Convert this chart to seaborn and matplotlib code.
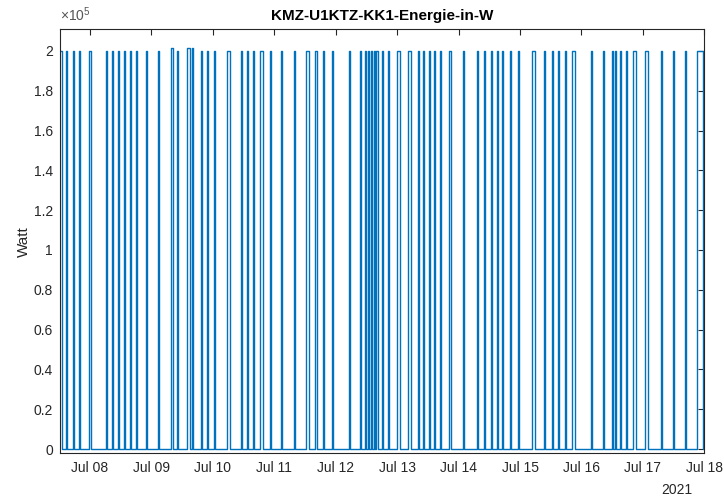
import numpy as np
import pandas as pd
import matplotlib
matplotlib.use("Agg")
import matplotlib.pyplot as plt
import matplotlib.dates as mdates
import seaborn as sns

# Switch-on events of the heater KK1: start time, duration in minutes, power level
switch_on = [
    "2021-07-07 12:00", "2021-07-07 14:42", "2021-07-07 17:17", "2021-07-07 19:53",
    "2021-07-07 23:48", "2021-07-08 06:19", "2021-07-08 08:31", "2021-07-08 10:51",
    "2021-07-08 13:28", "2021-07-08 15:49", "2021-07-08 18:03", "2021-07-08 21:57",
    "2021-07-09 02:29", "2021-07-09 07:30", "2021-07-09 10:04", "2021-07-09 14:04",
    "2021-07-09 15:48", "2021-07-09 19:26", "2021-07-09 21:47", "2021-07-10 00:22",
    "2021-07-10 05:24", "2021-07-10 10:55", "2021-07-10 13:15", "2021-07-10 15:36",
    "2021-07-10 18:27", "2021-07-10 22:24", "2021-07-11 02:37", "2021-07-11 07:35",
    "2021-07-11 12:16", "2021-07-11 16:06", "2021-07-11 19:07", "2021-07-11 22:44",
    "2021-07-12 05:04", "2021-07-12 09:34", "2021-07-12 11:33", "2021-07-12 12:37",
    "2021-07-12 13:47", "2021-07-12 14:50", "2021-07-12 15:56", "2021-07-12 17:58",
    "2021-07-12 20:21", "2021-07-12 23:49", "2021-07-13 04:07", "2021-07-13 08:04",
    "2021-07-13 10:17", "2021-07-13 12:22", "2021-07-13 14:31", "2021-07-13 16:44",
    "2021-07-13 20:27", "2021-07-14 01:44", "2021-07-14 07:12", "2021-07-14 10:01",
    "2021-07-14 12:40", "2021-07-14 14:53", "2021-07-14 16:58", "2021-07-14 20:05",
    "2021-07-14 23:08", "2021-07-15 04:34", "2021-07-15 09:16", "2021-07-15 12:23",
    "2021-07-15 14:39", "2021-07-15 17:23", "2021-07-15 20:12", "2021-07-16 03:49",
    "2021-07-16 08:21", "2021-07-16 11:45", "2021-07-16 13:14", "2021-07-16 14:59",
    "2021-07-16 17:29", "2021-07-16 20:11", "2021-07-17 00:52", "2021-07-17 07:10",
    "2021-07-17 11:41", "2021-07-17 16:16", "2021-07-17 21:02",
]
on_minutes = [
    64, 24, 24, 24, 24, 24, 24, 24, 24, 24, 24, 24,
    24, 50, 24, 50, 30, 24, 24, 24, 75, 24, 24, 24,
    75, 24, 24, 24, 75, 24, 24, 24, 24, 24, 24, 24,
    24, 24, 24, 24, 24, 75, 75, 24, 24, 24, 24, 24,
    24, 24, 24, 24, 24, 24, 24, 24, 24, 75, 24, 24,
    24, 24, 75, 24, 24, 24, 24, 24, 24, 75, 75, 24,
    24, 24, 155,
]
level_w = [
    200000, 200000, 200000, 200000, 200000, 200000, 200000, 200000, 200000, 200000, 200000, 200000,
    200000, 201500, 200000, 201500, 201500, 200000, 200000, 200000, 200000, 200000, 200000, 200000,
    200000, 200000, 200000, 200000, 200000, 200000, 200000, 200000, 200000, 200000, 200000, 200000,
    200000, 200000, 200000, 200000, 200000, 200000, 200000, 200000, 200000, 200000, 200000, 200000,
    200000, 200000, 200000, 200000, 200000, 200000, 200000, 200000, 200000, 200000, 200000, 200000,
    200000, 200000, 200000, 200000, 200000, 200000, 200000, 200000, 200000, 200000, 200000, 200000,
    200000, 200000, 200000,
]
series_end = "2021-07-18 01:00"
y_ticks = [0, 20000, 40000, 60000, 80000, 100000, 120000, 140000, 160000, 180000, 200000]
y_tick_labels = ["0", "0.2", "0.4", "0.6", "0.8", "1", "1.2", "1.4", "1.6", "1.8", "2"]

# Build the on/off step series
starts = pd.to_datetime(switch_on)
stops = starts + pd.to_timedelta(on_minutes, unit="min")
times, values = [], []
for t0, t1, lv in zip(starts, stops, level_w):
    times += [t0, t1]
    values += [lv, 0]
times.append(pd.Timestamp(series_end))
values.append(0)
df = pd.DataFrame({"Zeit": times, "Leistung": values})

sns.set_theme(style="white")
plt.rcParams["font.family"] = ["Liberation Sans", "DejaVu Sans"]
plt.rcParams["mathtext.fontset"] = "custom"
plt.rcParams["mathtext.rm"] = "Liberation Sans"
plt.rcParams["mathtext.it"] = "Liberation Sans"

ink = "#262626"
fig = plt.figure(figsize=(7.24, 5.0), dpi=100)
ax = fig.add_axes([60 / 724, 47 / 500, 644.3 / 724, 423.6 / 500])

sns.lineplot(data=df, x="Zeit", y="Leistung", estimator=None, sort=False,
             drawstyle="steps-post", color="#0072BD", linewidth=1.0, ax=ax)

ax.set_xlim(pd.Timestamp("2021-07-07 12:17"), pd.Timestamp("2021-07-18 00:00"))
ax.set_ylim(-2000, 210800)
ax.xaxis.set_major_locator(mdates.DayLocator())
ax.xaxis.set_major_formatter(mdates.DateFormatter("%b %d"))
ax.set_yticks(y_ticks)
ax.set_yticklabels(y_tick_labels)

for s in ax.spines.values():
    s.set_visible(True)
    s.set_color(ink)
    s.set_linewidth(0.8)
ax.tick_params(axis="both", which="major", direction="in", length=4.5, width=0.8,
               color=ink, labelcolor=ink, labelsize=10, top=True, right=True)
ax.tick_params(axis="x", pad=6)
ax.tick_params(axis="y", pad=5)

ax.set_xlabel("")
ax.set_ylabel("Watt", fontsize=11, color=ink, labelpad=2)
ax.set_title("KMZ-U1KTZ-KK1-Energie-in-W", fontsize=11, fontweight="bold",
             color="black", pad=7)

ax.text(0.0, 1.012, r"$\times10^{5}$", transform=ax.transAxes, ha="left",
        va="bottom", fontsize=10, color="#555555")
ax.text(0.981, -0.087, "2021", transform=ax.transAxes, ha="right", va="center",
        fontsize=10, color=ink)

fig.savefig("out.png", dpi=100, facecolor="white")
